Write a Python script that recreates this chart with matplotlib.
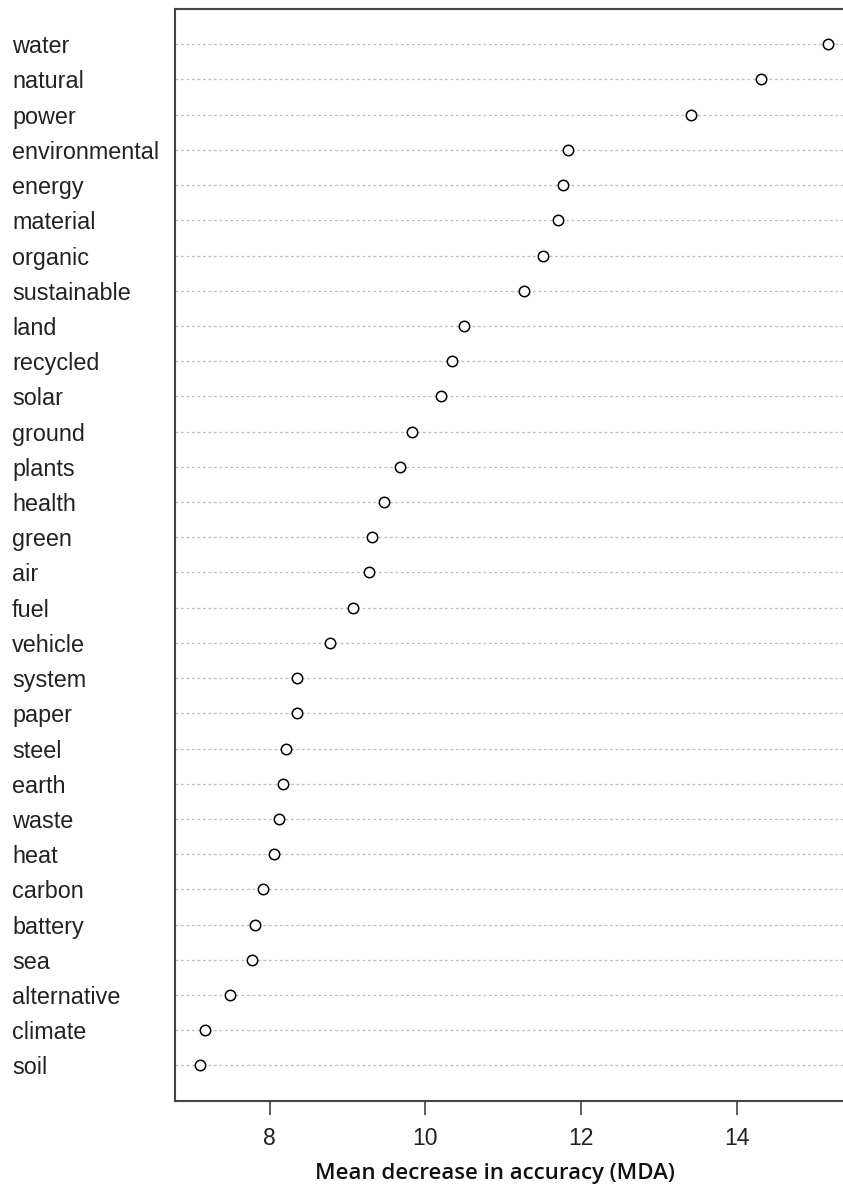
import matplotlib
matplotlib.use("Agg")
import matplotlib.pyplot as plt
from matplotlib.transforms import blended_transform_factory
import numpy as np

# variable importance, top row first
terms = [
    "water", "natural", "power", "environmental", "energy", "material",
    "organic", "sustainable", "land", "recycled", "solar", "ground",
    "plants", "health", "green", "air", "fuel", "vehicle", "system",
    "paper", "steel", "earth", "waste", "heat", "carbon", "battery",
    "sea", "alternative", "climate", "soil",
]
mda = [
    15.17, 14.30, 13.41, 11.83, 11.77, 11.70,
    11.51, 11.27, 10.50, 10.34, 10.20, 9.83,
    9.68, 9.47, 9.31, 9.27, 9.07, 8.78, 8.35,
    8.35, 8.21, 8.17, 8.12, 8.06, 7.92, 7.82,
    7.77, 7.49, 7.17, 7.11,
]
xticks = [8, 10, 12, 14]
xlabel = "Mean decrease in accuracy (MDA)"

W, H = 843, 1187
fig = plt.figure(figsize=(W / 100, H / 100), dpi=100)

vals = np.asarray(mda)
n = len(vals)
rows = np.arange(n, 0, -1)  # like R dotchart: first item on top

# R style 4% range extension
lo, hi = vals.min(), vals.max()
ext = 0.04 * (hi - lo)
xmin, xmax = lo - ext, hi + ext

px_per_unit = 77.95
left_px, bottom_px, top_px = 175, 1100.7, 9
width_px = (xmax - xmin) * px_per_unit
ax = fig.add_axes([left_px / W, (H - bottom_px) / H,
                   width_px / W, (bottom_px - top_px) / H])

for y in rows:
    ax.axhline(y, color="#bdbdbd", lw=0.9, ls=(0, (2.2, 2.2)), zorder=1)

ax.plot(vals, rows, ls="none", marker="o", ms=7.5, mfc="white",
        mec="black", mew=1.1, zorder=3)

ax.set_xlim(xmin, xmax)
ax.set_ylim(0, n + 1)
ax.set_yticks([])
ax.set_xticks(xticks)
ax.set_xticklabels([str(t) for t in xticks], fontsize=16.5,
                   family="Liberation Sans", fontstretch="normal",
                   color="#222222")
ax.tick_params(axis="x", direction="out", length=10, width=1.1,
               color="#333333", pad=9)

for side in ("left", "top", "bottom"):
    ax.spines[side].set_color("#444444")
    ax.spines[side].set_linewidth(1.5)
ax.spines["right"].set_visible(False)

trans = blended_transform_factory(fig.transFigure, ax.transData)
for lab, y in zip(terms, rows):
    ax.text(12 / W, y, lab, transform=trans, ha="left", va="center_baseline",
            fontsize=16.8, family="Liberation Sans", fontstretch="normal",
            color="#222222", clip_on=False)

fig.text(495 / W, 1 - 1174 / H, xlabel, ha="center", va="center",
         fontsize=16, family="Open Sans", weight="semibold", color="#111111")

fig.savefig("out.png", dpi=100)
